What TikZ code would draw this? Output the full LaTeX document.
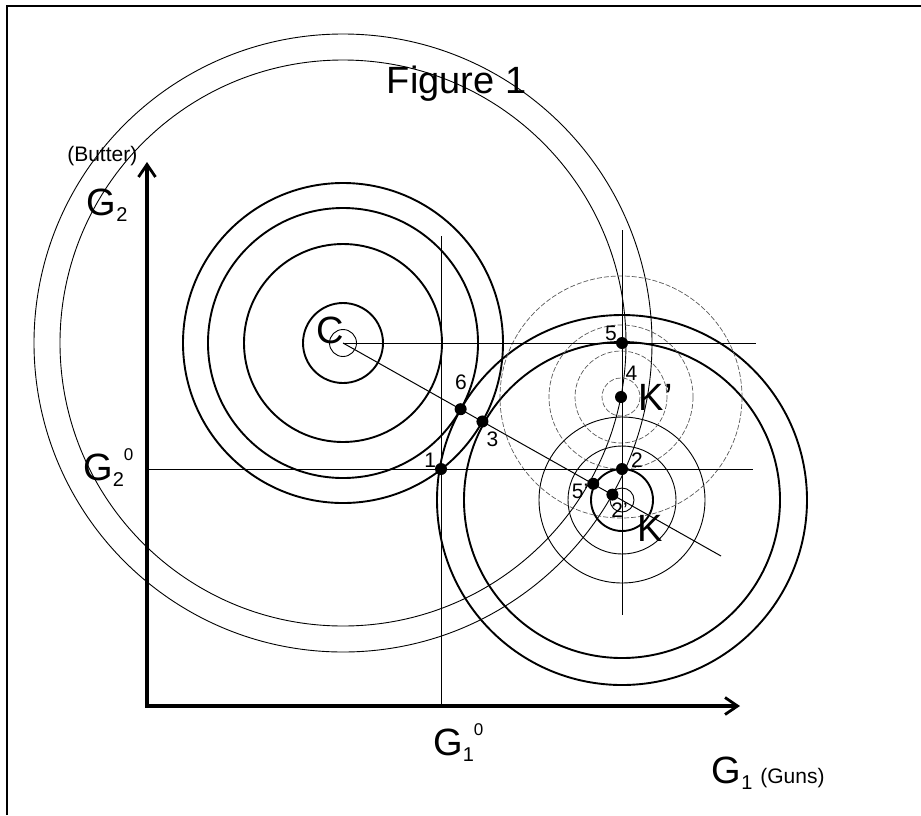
\documentclass[tikz,border=0pt]{standalone}
\usepackage{fontspec}
\setmainfont{Liberation Sans}
\usetikzlibrary{arrows.meta,positioning,calc}
\newcommand{\bigsz}{\fontsize{38}{40}\selectfont}
\newcommand{\subsz}{\fontsize{20}{22}\selectfont}
\newcommand{\supsz}{\fontsize{17}{19}\selectfont}
\newcommand{\Gsub}[1]{{\bigsz G}\raisebox{-6.5pt}{\subsz #1}}
\newcommand{\Gsubz}[1]{\Gsub{#1}\raisebox{20pt}{\supsz 0}}
\tikzset{
  ptdot/.style={circle, fill=black, inner sep=0pt, minimum size=12pt},
  ptlab/.style={font=\fontsize{21}{23}\selectfont, inner sep=0pt},
  bigl/.style={font=\bigsz, inner sep=0pt, anchor=base west},
  smallt/.style={font=\fontsize{21}{23}\selectfont, inner sep=0pt},
  barb/.tip={Straight Barb[length=12.5pt, width=17pt, line width=2.8pt]},
  axisl/.style={line width=4pt, barb-barb},
  heavy/.style={line width=1.9pt},
  light/.style={line width=0.9pt},
  dashc/.style={line width=0.7pt, black!65, dash pattern=on 5pt off 2pt},
  guide/.style={line width=1pt},
  frame/.style={line width=1.3pt},
}
\begin{document}
\begin{tikzpicture}[x=1pt, y=-1pt]
\useasboundingbox (0,0) rectangle (921,815);
\draw[frame] (7,815) -- (7,6) -- (921,6);
% bliss points
\coordinate (C) at (343,343);
\coordinate (K) at (622,500);
\coordinate (Kp) at (621,397);
% axes
\coordinate (O) at (147,706);
\coordinate (ytip) at (147,162);
\coordinate (xtip) at (740,706);
\draw[axisl] (ytip) -- (O) -- (xtip);
% C's circles
\foreach \r in {40,99,135,160} \draw[heavy] (C) circle[radius=\r];
\draw[light] (C) circle[radius=13.5];
\foreach \r in {283,309} \draw[light] (C) circle[radius=\r];
% K's circles
\foreach \r in {31,158,185} \draw[heavy] (K) circle[radius=\r];
\foreach \r in {12,54,83} \draw[light] (K) circle[radius=\r];
% K' circles
\foreach \r in {19,46,72,121} \draw[dashc] (Kp) circle[radius=\r];
% guide lines
\coordinate (Ch) at (756,343);
\coordinate (Ck) at (721,556);
\coordinate (g2a) at (147,469); \coordinate (g2b) at (753,469);
\coordinate (g1a) at (441,236); \coordinate (g1b) at (441,706);
\coordinate (ka) at (622,230);  \coordinate (kb) at (622,615);
\draw[guide] (C) -- (Ch);
\draw[guide] (C) -- (Ck);
\draw[guide] (g2a) -- (g2b);
\draw[guide] (g1a) -- (g1b);
\draw[guide] (ka) -- (kb);
% points
\node[ptdot] (p1) at (441,469) {};
\node[ptdot] (p2) at (622,469) {};
\node[ptdot] (p3) at ($(C)!160pt!(K)$) {};
\node[ptdot] (p4) at (Kp) {};
\node[ptdot] (p5) at (622,343) {};
\node[ptdot] (p6) at ($(C)!135pt!(K)$) {};
\node[ptdot] (p5p) at ($(K)!33pt!(C)$) {};
\node[ptdot] (p2p) at ($(K)!11pt!(C)$) {};
\node[ptlab] (l1) at (430.3,460) {1};
\node[ptlab] (l6) at (461,382.5) {6};
\node[ptlab] (l3) at (492.5,439.2) {3};
\node[ptlab] (l5) at (611,333.3) {5};
\node[ptlab] (l4) at (631.5,373.3) {4};
\node[ptlab] (l2) at (637,460) {2};
\node[ptlab] (l5p) at (580,491.5) {5’};
\node[ptlab] (l2p) at (619.5,510.5) {2’};
\node[bigl] (lC) at (316.5,343) {C};
\node[bigl] (lKp) at (638.5,410) {K’};
\node[bigl] (lK) at (637,541.7) {K};
% axis labels
\node[bigl] (lG2) at (86.5,215) {\Gsub{2}};
\node[bigl] (lG20) at (83,480) {\Gsubz{2}};
\node[bigl] (lG10) at (433,755) {\Gsubz{1}};
\node[bigl] (lG1) at (711.5,783.3) {\Gsub{1}\hspace{8pt}{\fontsize{21}{23}\selectfont (Guns)}};
\node[smallt, anchor=base] (lbut) at (102.3,161.5) {(Butter)};
\node[bigl, anchor=base] (ttl) at (456.5,93) {Figure 1};
\end{tikzpicture}
\end{document}
